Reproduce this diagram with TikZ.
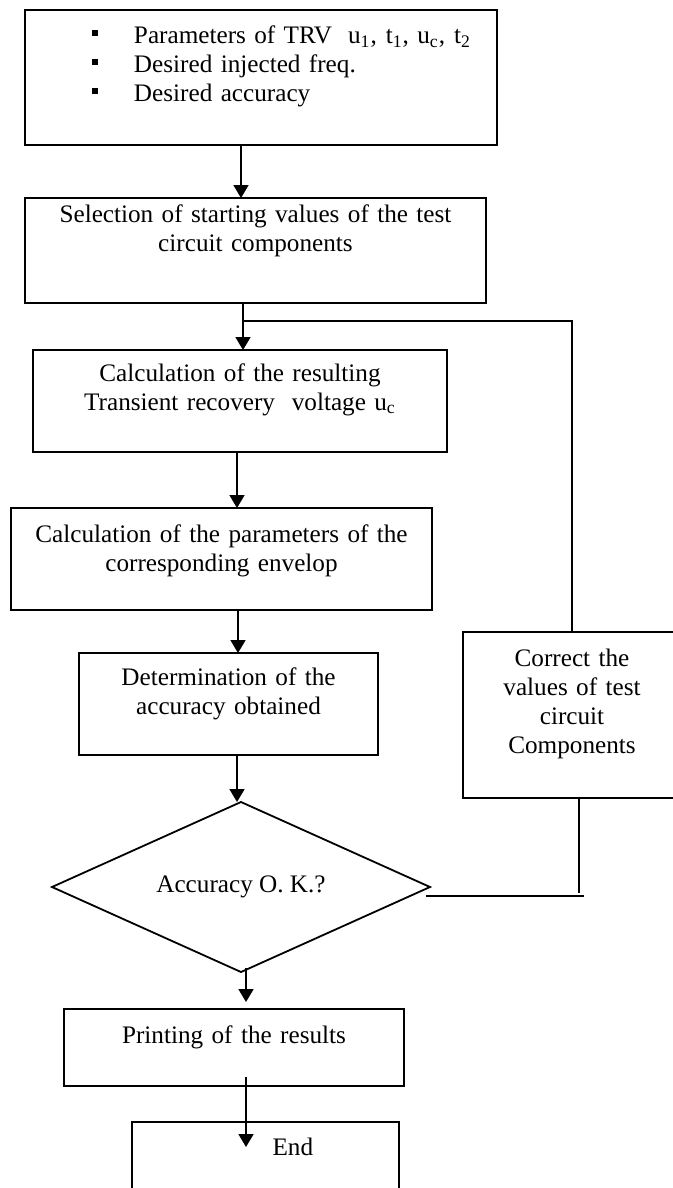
\documentclass[tikz,border=0pt]{standalone}
\usepackage{fontspec}
\setmainfont{Liberation Serif}
\usetikzlibrary{calc, shapes.geometric, arrows.meta}
\newcommand{\trvpt}{\hspace*{33.5pt}\rule[4pt]{3pt}{3pt}\hspace{18pt}}

\begin{document}
\begin{tikzpicture}[x=0.5pt, y=-0.5pt, line width=0.9pt,
  >={Triangle[length=6.5pt,width=7.5pt]},
  font=\fontsize{12.6pt}{14.5pt}\selectfont,
  blk/.style={draw, inner sep=0pt, outer sep=0pt, anchor=north west, align=center},
  dec/.style={draw, diamond, inner sep=0pt, outer sep=0pt, aspect=2.2,
    minimum width=189pt, minimum height=85pt}]
\clip (0,0) rectangle (673,1188);
\node[blk, align=left, text width=236pt, text height=17pt, text depth=50.5pt] (inp) at (25,10)
  {\trvpt Parameters of TRV\hspace{8pt}u\textsubscript{1},\hspace{4.5pt}t\textsubscript{1}, u\textsubscript{c},\hspace{4.5pt}t\textsubscript{2}\\
   \trvpt Desired injected freq.\\
   \trvpt Desired accuracy};
\node[blk, text width=230.5pt, text height=12pt, text depth=40.5pt] (sel) at (25,198)
  {Selection of starting values of the test\\circuit components};
\node[blk, text width=207pt, text height=15.5pt, text depth=35.5pt] (calc) at (33,350)
  {Calculation of the resulting\\Transient recovery\ \ voltage u\textsubscript{c}};
\node[blk, text width=210.5pt, text height=17pt, text depth=34pt] (env) at (11,508)
  {Calculation of the parameters of the\\corresponding envelop};
\node[blk, text width=149.5pt, text height=16pt, text depth=35pt] (acc) at (79,653)
  {Determination of the\\accuracy obtained};
\node[dec] (ok) at (241,887) {Accuracy O. K.?};
\node[blk, text width=170pt, text height=17pt, text depth=21.5pt] (prt) at (64,1009)
  {Printing of the results};
\node[blk, text width=133.5pt, text height=0pt, text depth=40pt] (fin) at (132,1122) {};
\node[anchor=base west] (endtxt) at (265,1155) {End};
\node[blk, text width=109pt, text height=17pt, text depth=66pt] (cor) at (463,632)
  {Correct the\\values of test\\circuit\\Components};
\coordinate (xa) at (241,0);
\coordinate (xb) at (243,0);
\coordinate (xc) at (237,0);
\coordinate (xd) at (238,0);
\coordinate (xf) at (246,0);
\coordinate (j1) at (243,321);
\coordinate (r0) at (426,896);
\coordinate (r1) at (579,893);
\coordinate (r2) at (584,896);
\draw[->] (inp.south -| xa) -- (sel.north -| xa);
\draw[->] (sel.south -| xb) -- (calc.north -| xb);
\draw (j1) -| (cor.north);
\draw[->] (calc.south -| xc) -- (env.north -| xc);
\draw[->] (env.south -| xd) -- (acc.north -| xd);
\draw[->] (acc.south -| xc) -- (ok.north -| xc);
\draw[->, shorten >=3.5pt] ($(ok.south -| xf)+(0,-4)$) -- (prt.north -| xf);
\draw[->] ($(prt.south -| xf)+(0,-9)$) -- ($(fin.north -| xf)+(0,25)$);
\draw (cor.south -| r1) -- (r1);
\draw (r0) -- (r2);
\end{tikzpicture}
\end{document}
